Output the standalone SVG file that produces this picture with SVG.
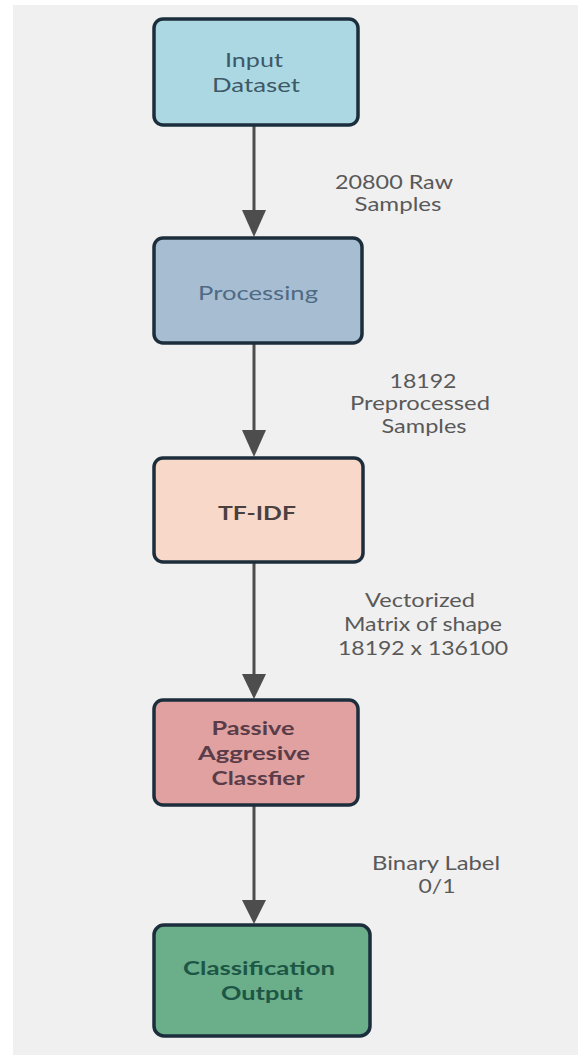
<svg xmlns="http://www.w3.org/2000/svg" width="578" height="1055" viewBox="0 0 578 1055">
  <defs>
    <style>
      .box { stroke: #1c2e3c; stroke-width: 3.5; }
      .node-text { font-family: Lato, "Open Sans", "Liberation Sans", sans-serif; font-size: 19px; text-anchor: middle; }
      .edge-label { font-family: Lato, "Open Sans", "Liberation Sans", sans-serif; font-size: 19px; fill: #595959; text-anchor: middle; }
      .edge { stroke: #4d4d4d; stroke-width: 3; fill: none; }
      .head { fill: #4d4d4d; }
    </style>
  </defs>

  <!-- page background -->
  <rect x="0" y="0" width="578" height="1055" fill="#ffffff"/>
  <rect x="13" y="5" width="565" height="1050" fill="#f0f0f0"/>

  <!-- connectors -->
  <g id="connectors">
    <line class="edge" x1="254" y1="125" x2="254" y2="212"/>
    <path class="head" d="M242,210 L266,210 L254,237 Z"/>
    <line class="edge" x1="254" y1="343" x2="254" y2="432"/>
    <path class="head" d="M242,430 L266,430 L254,457 Z"/>
    <line class="edge" x1="254" y1="562" x2="254" y2="676"/>
    <path class="head" d="M242,674 L266,674 L254,699 Z"/>
    <line class="edge" x1="254" y1="805" x2="254" y2="902"/>
    <path class="head" d="M242,900 L266,900 L254,924 Z"/>

    <text class="edge-label" x="394" y="189" textLength="118" lengthAdjust="spacingAndGlyphs">20800 Raw</text>
    <text class="edge-label" x="398" y="211" textLength="87" lengthAdjust="spacingAndGlyphs">Samples</text>

    <text class="edge-label" x="423" y="388" textLength="67" lengthAdjust="spacingAndGlyphs">18192</text>
    <text class="edge-label" x="420" y="410" textLength="140" lengthAdjust="spacingAndGlyphs">Preprocessed</text>
    <text class="edge-label" x="424" y="433" textLength="85" lengthAdjust="spacingAndGlyphs">Samples</text>

    <text class="edge-label" x="420" y="607" textLength="110" lengthAdjust="spacingAndGlyphs">Vectorized</text>
    <text class="edge-label" x="423" y="631" textLength="158" lengthAdjust="spacingAndGlyphs">Matrix of shape</text>
    <text class="edge-label" x="423" y="655" textLength="170" lengthAdjust="spacingAndGlyphs">18192 x 136100</text>

    <text class="edge-label" x="436" y="870" textLength="128" lengthAdjust="spacingAndGlyphs">Binary Label</text>
    <text class="edge-label" x="437" y="893" textLength="37" lengthAdjust="spacingAndGlyphs">0/1</text>
  </g>

  <!-- nodes -->
  <g id="input-dataset">
    <rect class="box" x="154" y="19" width="204" height="106" rx="9" fill="#acd8e3"/>
    <text class="node-text" x="254" y="67" fill="#3e5966" textLength="58" lengthAdjust="spacingAndGlyphs">Input</text>
    <text class="node-text" x="256" y="92" fill="#3e5966" textLength="88" lengthAdjust="spacingAndGlyphs">Dataset</text>
  </g>

  <g id="processing">
    <rect class="box" x="154" y="238" width="208" height="105" rx="9" fill="#a7bdd2"/>
    <text class="node-text" x="258" y="300" fill="#4f6a84" textLength="120" lengthAdjust="spacingAndGlyphs">Processing</text>
  </g>

  <g id="tf-idf">
    <rect class="box" x="154" y="458" width="209" height="104" rx="9" fill="#f8d9c9"/>
    <text class="node-text" x="257" y="520" fill="#4a4040" font-weight="bold" textLength="78" lengthAdjust="spacingAndGlyphs">TF-IDF</text>
  </g>

  <g id="classifier">
    <rect class="box" x="154" y="700" width="204" height="105" rx="9" fill="#e0a1a0"/>
    <text class="node-text" x="253" y="735" fill="#5a3c48" font-weight="bold" textLength="83" lengthAdjust="spacingAndGlyphs">Passive</text>
    <text class="node-text" x="254" y="760" fill="#5a3c48" font-weight="bold" textLength="112" lengthAdjust="spacingAndGlyphs">Aggresive</text>
    <text class="node-text" x="258" y="785" fill="#5a3c48" font-weight="bold" textLength="93" lengthAdjust="spacingAndGlyphs">Classfier</text>
  </g>

  <g id="classification-output">
    <rect class="box" x="154" y="925" width="216" height="111" rx="10" fill="#6aae8a"/>
    <text class="node-text" x="259" y="975" fill="#1e5646" font-weight="bold" textLength="152" lengthAdjust="spacingAndGlyphs">Classification</text>
    <text class="node-text" x="262" y="1000" fill="#1e5646" font-weight="bold" textLength="82" lengthAdjust="spacingAndGlyphs">Output</text>
  </g>
</svg>
